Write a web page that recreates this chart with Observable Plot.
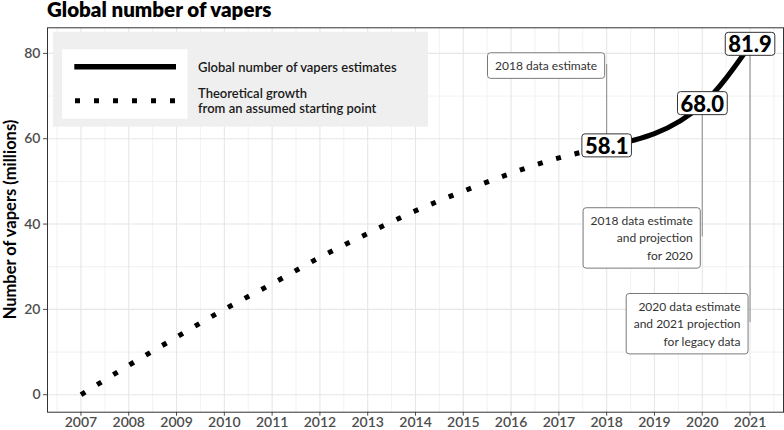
<!DOCTYPE html>
<html><head><meta charset="utf-8">
<script src="https://cdn.jsdelivr.net/npm/d3@7"></script>
<script src="https://cdn.jsdelivr.net/npm/@observablehq/plot@0.6"></script>
<style>
body{margin:0;background:#fff;font-family:Lato,"Open Sans",sans-serif;}
#title{height:22px;padding-left:47px;font-size:20.5px;font-weight:800;line-height:18px;color:#000;box-sizing:border-box;white-space:nowrap;}
#chart svg{display:block;}
</style></head><body>
<div id="title">Global number of vapers</div>
<div id="chart"></div>
<script>
// ---- data ----
const theoreticalYears = [2007, 2008, 2009, 2010, 2011, 2012, 2013, 2014, 2015, 2016, 2017, 2018];
const theoreticalValues = [0, 6.9, 13.5, 20.0, 26.0, 32.2, 37.8, 43.1, 47.7, 51.9, 55.5, 58.1];
const estimateYears = [2018, 2020, 2021];
const estimateValues = [58.1, 68.0, 81.9];
const annotationYears = [2018, 2020, 2021];
const annotationValues = [58.1, 68.0, 81.9];
const annotationBoxY = [77.4, 37.0, 16.9];
const annotationTexts = [
  "2018 data estimate",
  "2018 data estimate\nand projection\nfor 2020",
  "2020 data estimate\nand 2021 projection\nfor legacy data"
];
const xTicks = [2007, 2008, 2009, 2010, 2011, 2012, 2013, 2014, 2015, 2016, 2017, 2018, 2019, 2020, 2021];
const xMinor = [2006.5, 2007.5, 2008.5, 2009.5, 2010.5, 2011.5, 2012.5, 2013.5, 2014.5, 2015.5, 2016.5, 2017.5, 2018.5, 2019.5, 2020.5, 2021.5];
const yTicks = [0, 20, 40, 60, 80];
const yMinor = [10, 30, 50, 70];
const legendLabels = ["Global number of vapers estimates", "Theoretical growth", "from an assumed starting point"];
const yTitle = "Number of vapers (millions)";

const theoretical = theoreticalYears.map((year, i) => ({year, value: theoreticalValues[i]}));
const estimates = estimateYears.map((year, i) => ({year, value: estimateValues[i]}));
const annotations = annotationYears.map((year, i) => ({year, value: annotationValues[i], boxY: annotationBoxY[i], text: annotationTexts[i]}));

const W = 784, H = 408;
const mT = 5.3, mB = 18.3, mL = 47, mR = 1;
const FONT = "Lato, 'Open Sans', sans-serif";

const svg = Plot.plot({
  width: W, height: H,
  marginTop: mT, marginBottom: mB, marginLeft: mL, marginRight: mR,
  style: {fontFamily: FONT, fontSize: "14px", color: "#4d4d4d", background: "white", overflow: "visible"},
  x: {domain: [2006.3, 2021.7], ticks: xTicks, tickFormat: d => String(d), tickSize: 4, tickPadding: 1, label: null},
  y: {domain: [-4.095, 86.0], ticks: yTicks, tickSize: 4, tickPadding: 3, label: null},
  marks: [
    Plot.ruleX(xMinor, {stroke: "#ececec", strokeWidth: 0.7}),
    Plot.ruleY(yMinor, {stroke: "#ececec", strokeWidth: 0.7}),
    Plot.ruleX(xTicks, {stroke: "#e6e6e6", strokeWidth: 1.1}),
    Plot.ruleY(yTicks, {stroke: "#e6e6e6", strokeWidth: 1.1}),
    Plot.frame({stroke: "#333", strokeWidth: 1}),
    Plot.ruleX(annotations, {x: "year", y1: "value", y2: "boxY", stroke: "#8a8a8a", strokeWidth: 1}),
    Plot.line(theoretical, {x: "year", y: "value", curve: "natural", stroke: "black", strokeWidth: 5, strokeDasharray: "5 14", strokeLinecap: "butt"}),
    Plot.line(estimates, {x: "year", y: "value", curve: "monotone-x", stroke: "black", strokeWidth: 5}),
    Plot.text(annotations, {x: "year", y: "boxY", text: "text", textAnchor: "end", dx: -9.5, fontSize: 12, fontWeight: 400, fill: "#333", lineHeight: 1.45}),
    Plot.text(estimates, {x: "year", y: "value", text: d => d.value.toFixed(1), fontSize: 22, fontWeight: 900, fill: "black"})
  ]
});
document.getElementById("chart").appendChild(svg);
const s = d3.select(svg);
// axis tick labels: semi-bold
s.selectAll("text").filter(function() { return !this.closest("[font-weight]"); }).style("font-weight", 600);

const valueStrings = estimateValues.map(v => v.toFixed(1));
const annoFirstLines = annotationTexts.map(t => t.split("\n")[0]);

function addBox(node, padX, padY, stroke, fixedH) {
  const b = node.getBBox();
  const rect = document.createElementNS("http://www.w3.org/2000/svg", "rect");
  const h = fixedH != null ? fixedH : b.height + 2 * padY;
  const cy = b.y + b.height / 2;
  rect.setAttribute("x", b.x - padX);
  rect.setAttribute("y", cy - h / 2);
  rect.setAttribute("width", b.width + 2 * padX);
  rect.setAttribute("height", h);
  rect.setAttribute("rx", 3);
  rect.setAttribute("fill", "white");
  rect.setAttribute("stroke", stroke);
  rect.setAttribute("stroke-width", 1);
  const t = node.getAttribute("transform");
  if (t) rect.setAttribute("transform", t);
  node.parentNode.insertBefore(rect, node);
}
s.selectAll("text").each(function() {
  const tc = this.textContent;
  if (valueStrings.includes(tc)) addBox(this, 3, 0, "#333", 23);
  else if (annoFirstLines.some(l => tc.startsWith(l))) addBox(this, 7.5, 5.3, "#7a7a7a");
});

// legend (inside panel, top-left)
const lg = s.append("g").attr("class", "legend");
lg.append("rect").attr("x", 53).attr("y", 9.7).attr("width", 375).attr("height", 95).attr("fill", "#efefef");
lg.append("rect").attr("x", 62).attr("y", 27.3).attr("width", 125.5).attr("height", 69.4).attr("fill", "white");
lg.append("line").attr("x1", 74.3).attr("x2", 176).attr("y1", 44.7).attr("y2", 44.7).attr("stroke", "black").attr("stroke-width", 5.5);
lg.append("line").attr("x1", 75).attr("x2", 175).attr("y1", 78.7).attr("y2", 78.7).attr("stroke", "black").attr("stroke-width", 5).attr("stroke-dasharray", "5 14");
const lt = lg.append("g").attr("font-size", 13).attr("fill", "#1a1a1a").attr("font-family", FONT).attr("text-anchor", "start").style("font-weight", 600);
lt.append("text").attr("x", 198).attr("y", 45).attr("dy", "0.35em").text(legendLabels[0]);
const lt2 = lt.append("text").attr("x", 198).attr("y", 71.5).attr("dy", "0.35em");
lt2.append("tspan").attr("x", 198).text(legendLabels[1]);
lt2.append("tspan").attr("x", 198).attr("dy", "14.5").text(legendLabels[2]);

// y-axis title
s.append("text")
  .attr("transform", `translate(10,${(mT + (H - mB)) / 2}) rotate(-90)`)
  .attr("text-anchor", "middle").attr("dy", "0.35em")
  .attr("font-size", 16.5).style("font-weight", 700).attr("fill", "#000")
  .attr("font-family", FONT)
  .text(yTitle);
</script>
</body></html>
